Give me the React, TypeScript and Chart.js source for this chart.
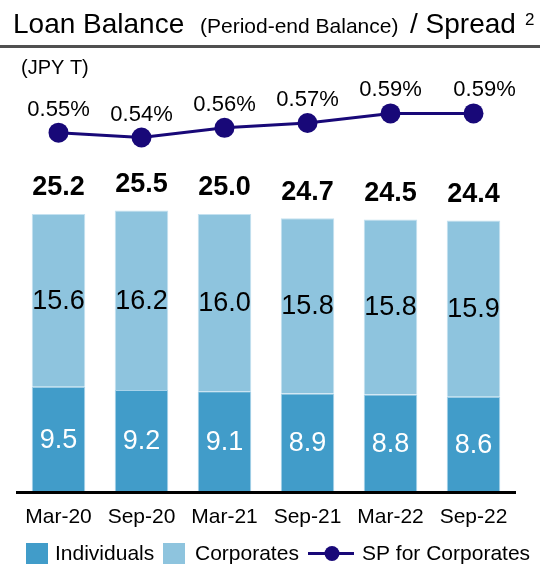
import { useEffect, useRef } from "react";
import { Chart, registerables } from "chart.js";

Chart.register(...registerables);

const categories = ["Mar-20", "Sep-20", "Mar-21", "Sep-21", "Mar-22", "Sep-22"];
const individuals = [9.5, 9.2, 9.1, 8.9, 8.8, 8.6];
const corporates = [15.6, 16.2, 16.0, 15.8, 15.8, 15.9];
const totals = [25.2, 25.5, 25.0, 24.7, 24.5, 24.4];
const spread = [0.55, 0.54, 0.56, 0.57, 0.59, 0.59];

const FONT = "'Liberation Sans', Arial, sans-serif";
const C_IND = "#419cc9";
const C_CORP = "#8ec4de";
const C_LINE = "#180878";

const labelsPlugin = {
  id: "valueLabels",
  afterDatasetsDraw(chart: any) {
    const ctx = chart.ctx;
    ctx.save();
    const mInd = chart.getDatasetMeta(0);
    const mCorp = chart.getDatasetMeta(1);
    const mLine = chart.getDatasetMeta(2);
    ctx.textAlign = "center";
    ctx.textBaseline = "middle";
    ctx.font = `27px ${FONT}`;
    mInd.data.forEach((el: any, i: number) => {
      ctx.fillStyle = "#ffffff";
      ctx.fillText(individuals[i].toFixed(1), el.x, (el.y + el.base) / 2 + 1);
    });
    mCorp.data.forEach((el: any, i: number) => {
      ctx.fillStyle = "#000000";
      ctx.fillText(corporates[i].toFixed(1), el.x, (el.y + el.base) / 2 + 1);
    });
    ctx.textBaseline = "alphabetic";
    ctx.font = `bold 27px ${FONT}`;
    mCorp.data.forEach((el: any, i: number) => {
      ctx.fillStyle = "#000000";
      ctx.fillText(totals[i].toFixed(1), el.x, el.y - 18.5);
    });
    ctx.font = `22px ${FONT}`;
    const n = mLine.data.length;
    mLine.data.forEach((el: any, i: number) => {
      ctx.fillStyle = "#000000";
      const dx = i === n - 1 ? 11 : 0;
      ctx.fillText(spread[i].toFixed(2) + "%", el.x + dx, el.y - 17);
    });
    ctx.restore();
  },
};

const decorPlugin = {
  id: "decor",
  afterDraw(chart: any) {
    const ctx = chart.ctx;
    ctx.save();
    ctx.fillStyle = "#000000";
    ctx.textAlign = "left";
    ctx.textBaseline = "alphabetic";
    ctx.font = `28px ${FONT}`;
    ctx.fillText("Loan Balance", 13, 33);
    ctx.font = `21px ${FONT}`;
    ctx.fillText("(Period-end Balance)", 200, 33);
    ctx.font = `28px ${FONT}`;
    ctx.fillText("/ Spread", 410, 33);
    ctx.font = `17px ${FONT}`;
    ctx.fillText("2", 525, 25);
    ctx.fillStyle = "#505050";
    ctx.fillRect(0, 45, 540, 3);
    ctx.fillStyle = "#000000";
    ctx.font = `20px ${FONT}`;
    ctx.fillText("(JPY T)", 21, 74);

    // legend
    const ly = 553.5;
    ctx.font = `21px ${FONT}`;
    ctx.textBaseline = "middle";
    ctx.fillStyle = C_IND;
    ctx.fillRect(26, 543, 22, 21);
    ctx.fillStyle = "#000000";
    ctx.fillText("Individuals", 55, ly + 1);
    ctx.fillStyle = C_CORP;
    ctx.fillRect(163, 543, 22, 21);
    ctx.fillStyle = "#000000";
    ctx.fillText("Corporates", 195, ly + 1);
    ctx.strokeStyle = C_LINE;
    ctx.lineWidth = 3;
    ctx.beginPath();
    ctx.moveTo(308, ly);
    ctx.lineTo(354, ly);
    ctx.stroke();
    ctx.fillStyle = C_LINE;
    ctx.beginPath();
    ctx.arc(332, ly, 7.5, 0, Math.PI * 2);
    ctx.fill();
    ctx.fillStyle = "#000000";
    ctx.fillText("SP for Corporates", 362, ly + 1);
    ctx.restore();
  },
};

export default function App() {
  const ref = useRef<HTMLCanvasElement | null>(null);
  useEffect(() => {
    if (!ref.current) return;
    const top = 50;
    const bottom = 492;
    const h = bottom - top;
    const pxPerUnit = 11.08;
    const pxPerPct = 482;
    const y2max = 0.54 + (137.5 - top) / pxPerPct;
    const y2min = y2max - h / pxPerPct;
    const chart = new Chart(ref.current, {
      type: "bar",
      data: {
        labels: categories,
        datasets: [
          {
            type: "bar",
            label: "Individuals",
            data: individuals,
            backgroundColor: C_IND,
            borderColor: "#a9d3ea",
            borderWidth: { top: 1, left: 1, right: 1, bottom: 0 },
            stack: "s",
            yAxisID: "y",
            categoryPercentage: 1,
            barPercentage: 0.645,
          },
          {
            type: "bar",
            label: "Corporates",
            data: corporates,
            backgroundColor: C_CORP,
            borderColor: "#c4e1f0",
            borderWidth: { top: 1, left: 1, right: 1, bottom: 0 },
            stack: "s",
            yAxisID: "y",
            categoryPercentage: 1,
            barPercentage: 0.645,
          },
          {
            type: "line",
            label: "SP for Corporates",
            data: spread,
            borderColor: C_LINE,
            backgroundColor: C_LINE,
            borderWidth: 3,
            pointRadius: 10,
            pointBorderWidth: 0,
            pointBackgroundColor: C_LINE,
            yAxisID: "y2",
          },
        ],
      },
      options: {
        responsive: false,
        animation: false,
        devicePixelRatio: 1,
        layout: { padding: { top, left: 17, right: 25, bottom: 566 - bottom - 40 } },
        plugins: { legend: { display: false }, tooltip: { enabled: false }, title: { display: false } },
        scales: {
          x: {
            stacked: true,
            grid: { display: false, drawTicks: false },
            border: { display: true, color: "#000000", width: 3, z: 1 },
            ticks: { color: "#000000", font: { family: FONT, size: 21 }, padding: 13, maxRotation: 0 },
            afterFit: (s: any) => {
              s.height = 40;
            },
          },
          y: { stacked: true, display: false, min: 0, max: h / pxPerUnit },
          y2: { display: false, min: y2min, max: y2max },
        },
      },
      plugins: [labelsPlugin, decorPlugin],
    });
    return () => chart.destroy();
  }, []);
  return (
    <div style={{ position: "absolute", left: 0, top: 0, width: 540, height: 566, background: "#fff" }}>
      <canvas ref={ref} width={540} height={566} style={{ display: "block" }} />
    </div>
  );
}
